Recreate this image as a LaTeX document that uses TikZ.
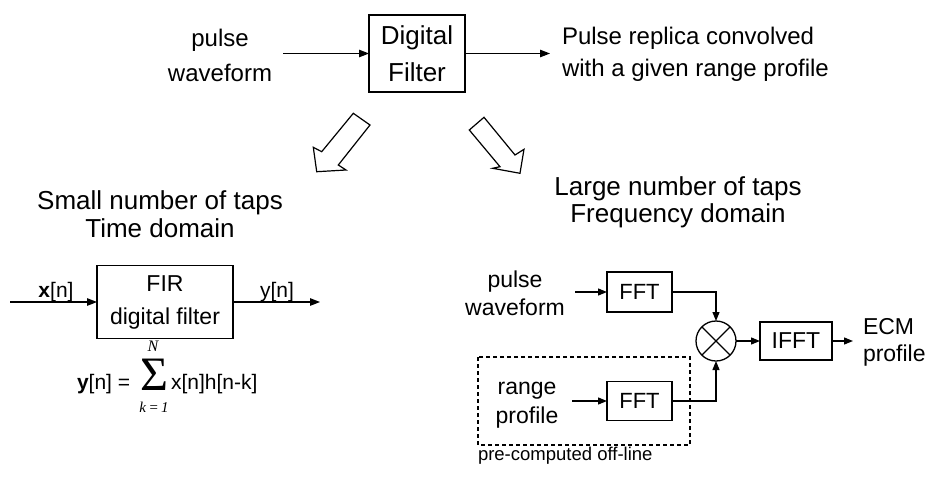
\documentclass[tikz,border=0pt]{standalone}
\usepackage{fontspec}
\setmainfont{Liberation Sans}
\newfontfamily\serifmath{Liberation Serif}
\usetikzlibrary{arrows.meta}
\newcommand\fsz[2]{\fontsize{#1}{#2}\selectfont}
\begin{document}
\begin{tikzpicture}[x=1pt,y=-1pt,
  every node/.style={inner sep=0pt, outer sep=0pt},
  blk/.style={draw, line width=1.3pt, align=center},
  arr/.style={line width=1.3pt, -{Triangle[length=10pt,width=7.5pt]}},
  sarr/.style={line width=1.3pt, -{Triangle[length=9pt,width=7pt]}},
  lbl/.style={align=center},
  hollow/.style={draw, line width=1.2pt, line join=miter, fill=white}]
\useasboundingbox[fill=white] (0,0) rectangle (929,482);

% ---- top row
\node[blk, minimum width=96pt, minimum height=77pt, font=\fsz{26}{37}] (df) at (417,53.5) {Digital\\Filter};
\node[lbl, font=\fsz{24}{35}] (pw1) at (220,55) {pulse\\waveform};
\node[align=left, anchor=west, font=\fsz{24}{32}] (out1) at (562,54) {Pulse replica convolved\\with a given range profile};
\coordinate (in1) at (283,53.5);
\coordinate (o1) at (550,53.5);
\draw[arr] (in1) -- (df.west);
\draw[arr] (df.east) -- (o1);

% ---- hollow arrows
\draw[hollow] (353.3,113.3) -- (370,125) -- (338.3,165) -- (346,170) -- (316.7,171.7) -- (313.3,147.3) -- (321.7,151.7) -- cycle;
\draw[hollow] (484,117.3) -- (469.3,130) -- (500,166.7) -- (492.7,168.3) -- (520,173.3) -- (524,149.3) -- (515,155) -- cycle;

% ---- headings
\node[lbl, font=\fsz{26}{28}] (t1) at (160,214.5) {Small number of taps\\Time domain};
\node[lbl, font=\fsz{26}{27}] (t2) at (678,202.7) {Large number of taps\\Frequency domain};

% ---- left: FIR
\node[blk, minimum width=136pt, minimum height=73pt, font=\fsz{23}{33}] (fir) at (165,302) {FIR\\digital filter};
\coordinate (xin) at (10,302);
\coordinate (yout) at (320,302);
\draw[arr] (xin) -- (fir.west);
\draw[arr] (fir.east) -- (yout);
\node[anchor=base, font=\fsz{21}{25}] (xl) at (56,297) {\textbf{x}[n]};
\node[anchor=base, font=\fsz{21}{25}] (yl) at (277,297) {y[n]};
% formula
\node[anchor=base west, font=\fsz{21}{25}] (eqa) at (77,389) {\textbf{y}[n] =};
\node[font=\serifmath\fsz{48}{50}] (sig) at (154,375) {Σ};
\node[font=\serifmath\itshape\fsz{16}{18}] (sup) at (153,346) {N};
\node[font=\serifmath\itshape\fsz{15}{18}] (sub) at (154,407.5) {k\,=\,1};
\node[anchor=base west, font=\fsz{21}{25}] (eqb) at (171,389) {x[n]h[n-k]};

% ---- right: frequency domain
\node[lbl, font=\fsz{23}{28}] (pw2) at (515,293.5) {pulse\\waveform};
\node[blk, minimum width=65pt, minimum height=40pt, font=\fsz{22}{26}] (fft1) at (639.5,292) {FFT};
\node[blk, minimum width=65pt, minimum height=39pt, font=\fsz{22}{26}] (fft2) at (639.5,401) {FFT};
\node[circle, draw, line width=1.3pt, minimum size=40pt,
  path picture={\draw[line width=1.3pt] (path picture bounding box.north west) -- (path picture bounding box.south east)
   (path picture bounding box.north east) -- (path picture bounding box.south west);}] (mult) at (716,341) {};
\node[blk, minimum width=72pt, minimum height=38pt, font=\fsz{23}{27}] (ifft) at (796,341) {IFFT};
\node[align=left, anchor=west, font=\fsz{23}{27}] (ecm) at (863,342.5) {ECM\\profile};
\node[lbl, font=\fsz{23}{29}] (rp) at (527,405) {range\\profile};
\draw[line width=1.2pt, dash pattern=on 4pt off 3pt] (478,357) rectangle (690,445);
\node[anchor=base west, font=\fsz{18.5}{22}] (pc) at (478,460) {pre-computed off-line};

\coordinate (pin) at (575,292);
\coordinate (rin) at (572,401);
\coordinate (eout) at (853,341);
\draw[sarr] (pin) -- (fft1.west);
\draw[sarr] (rin) -- (fft2.west);
\draw[sarr] (fft1.east) -| (mult.north);
\draw[sarr] (fft2.east) -| (mult.south);
\draw[sarr] (mult.east) -- (ifft.west);
\draw[sarr] (ifft.east) -- (eout);
\end{tikzpicture}
\end{document}
